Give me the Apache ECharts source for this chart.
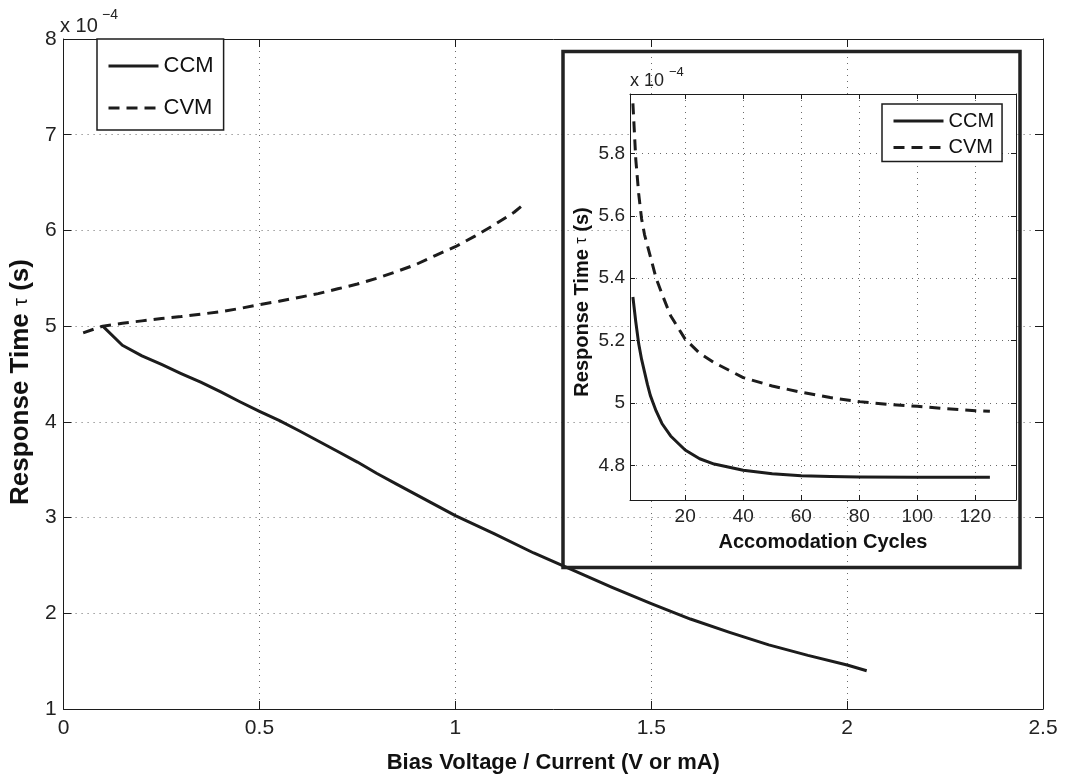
<!DOCTYPE html>
<html>
<head>
<meta charset="utf-8">
<script src="https://cdn.jsdelivr.net/npm/echarts@6/dist/echarts.min.js"></script>
<style>
  html, body { margin: 0; padding: 0; background: #fff; }
  #chart { width: 1067px; height: 779px; }
</style>
</head>
<body>
<div id="chart"></div>
<script>
const FONT = '"Liberation Sans", Arial, Helvetica, sans-serif';
const INK = '#1c1c1c';

// Main plot: response time (x 1e-4 s) against bias voltage / current
const biasCCM = [0.10, 0.15, 0.20, 0.25, 0.30, 0.35, 0.40, 0.45, 0.50, 0.55, 0.60, 0.65, 0.70, 0.75, 0.80,
                 0.85, 0.90, 0.95, 1.00, 1.10, 1.20, 1.30, 1.40, 1.50, 1.60, 1.70, 1.80, 1.90, 2.00, 2.05];
const tauCCM  = [5.00, 4.80, 4.69, 4.60, 4.505, 4.415, 4.315, 4.21, 4.11, 4.015, 3.91, 3.80, 3.69, 3.58, 3.46,
                 3.35, 3.24, 3.13, 3.02, 2.83, 2.63, 2.45, 2.27, 2.10, 1.94, 1.80, 1.67, 1.56, 1.46, 1.40];
const biasCVM = [0.05, 0.10, 0.15, 0.20, 0.25, 0.30, 0.35, 0.40, 0.45, 0.50, 0.55, 0.60, 0.65, 0.70, 0.75,
                 0.80, 0.85, 0.90, 0.95, 1.00, 1.05, 1.10, 1.15, 1.18];
const tauCVM  = [4.93, 5.00, 5.03, 5.055, 5.08, 5.10, 5.125, 5.15, 5.185, 5.225, 5.26, 5.30, 5.34, 5.39, 5.44,
                 5.50, 5.57, 5.645, 5.74, 5.83, 5.94, 6.06, 6.19, 6.29];

// Inset: response time (x 1e-4 s) against accommodation cycles
const cyclesCCM = [2, 3, 4, 5, 6, 7, 8, 9, 10, 12, 15, 20, 25, 30, 40, 50, 60, 70, 80, 100, 125];
const insetCCM  = [5.34, 5.26, 5.19, 5.14, 5.10, 5.06, 5.025, 5.00, 4.975, 4.935, 4.895, 4.85, 4.822, 4.805,
                   4.785, 4.774, 4.768, 4.765, 4.764, 4.763, 4.763];
const cyclesCVM = [2, 3, 4, 5, 6, 8, 10, 12, 15, 20, 25, 30, 40, 50, 60, 70, 80, 90, 100, 110, 120, 125];
const insetCVM  = [5.96, 5.78, 5.67, 5.59, 5.54, 5.47, 5.40, 5.35, 5.28, 5.205, 5.16, 5.13, 5.082, 5.055,
                   5.035, 5.018, 5.005, 4.996, 4.990, 4.982, 4.976, 4.974];

// Axis extents and ticks
const mainX = { min: 0, max: 2.5, step: 0.5 };
const mainY = { min: 1, max: 8, step: 1 };
const insetXRange = [1, 134];
const insetYRange = [4.69, 5.99];
const insetXTicks = [20, 40, 60, 80, 100, 120];
const insetYTicks = [4.8, 5.0, 5.2, 5.4, 5.6, 5.8];
const seriesNames = ['CCM', 'CVM'];

const pairs = (xs, ys) => xs.map((x, i) => [x, ys[i]]);

const gridLine = { show: true, lineStyle: { color: '#6a6a6a', width: 1, type: [1, 5] } };
const frameLine = { show: true, onZero: false, lineStyle: { color: INK, width: 1 } };
const tickLabel = (size) => ({ color: '#222', fontFamily: FONT, fontSize: size });

function mainXAxis(position, labels) {
  return {
    type: 'value', gridIndex: 0, position, min: mainX.min, max: mainX.max, interval: mainX.step,
    axisLine: frameLine,
    axisTick: { show: true, inside: true, length: 8, lineStyle: { color: INK } },
    axisLabel: labels ? Object.assign({ show: true, margin: 9 }, tickLabel(21)) : { show: false },
    splitLine: labels ? gridLine : { show: false }
  };
}
function mainYAxis(position, labels) {
  return {
    type: 'value', gridIndex: 0, position, min: mainY.min, max: mainY.max, interval: mainY.step,
    axisLine: frameLine,
    axisTick: { show: true, inside: true, length: 8, lineStyle: { color: INK } },
    axisLabel: labels ? Object.assign({ show: true, margin: 7 }, tickLabel(21)) : { show: false },
    splitLine: labels ? gridLine : { show: false }
  };
}
function insetAxis(dim, position, labels) {
  const range = dim === 'x' ? insetXRange : insetYRange;
  const ticks = dim === 'x' ? insetXTicks : insetYTicks;
  return {
    type: 'value', gridIndex: 1, position, min: range[0], max: range[1], z: 3,
    axisLine: frameLine,
    axisTick: { show: true, inside: true, length: 5, customValues: ticks, lineStyle: { color: INK } },
    axisLabel: labels ? Object.assign({ show: true, customValues: ticks, margin: dim === 'x' ? 7 : 5 }, tickLabel(19)) : { show: false },
    splitLine: labels ? gridLine : { show: false }
  };
}

const xAxes = [mainXAxis('bottom', true), mainXAxis('top', false), insetAxis('x', 'bottom', true), insetAxis('x', 'top', false)];
const yAxes = [mainYAxis('left', true), mainYAxis('right', false), insetAxis('y', 'left', true), insetAxis('y', 'right', false)];

Object.assign(xAxes[0], {
  name: 'Bias Voltage / Current (V or mA)', nameLocation: 'middle', nameGap: 43,
  nameTextStyle: { fontFamily: FONT, fontSize: 22, fontWeight: 'bold', color: '#111' }
});
Object.assign(yAxes[0], {
  name: '{b|Response Time }{t|τ}{b| (s)}', nameLocation: 'middle', nameGap: 28, nameRotate: 90,
  nameTextStyle: { padding: [0, 16, 0, 0], rich: {
    b: { fontFamily: FONT, fontSize: 26, fontWeight: 'bold', color: '#111' },
    t: { fontFamily: FONT, fontSize: 20, color: '#111' }
  } }
});
Object.assign(xAxes[2], {
  name: 'Accomodation Cycles', nameLocation: 'middle', nameGap: 32,
  nameTextStyle: { fontFamily: FONT, fontSize: 20, fontWeight: 'bold', color: '#111' }
});
Object.assign(yAxes[2], {
  name: '{b|Response Time }{t|τ}{b| (s)}', nameLocation: 'middle', nameGap: 38, nameRotate: 90,
  nameTextStyle: { padding: [0, 10, 0, 0], rich: {
    b: { fontFamily: FONT, fontSize: 20, fontWeight: 'bold', color: '#111' },
    t: { fontFamily: FONT, fontSize: 16, color: '#111' }
  } }
});

function curve(name, xs, ys, axisIdx, dashed, z) {
  return {
    name, type: 'line', xAxisIndex: axisIdx, yAxisIndex: axisIdx, data: pairs(xs, ys),
    symbol: 'none', showSymbol: false, silent: true, animation: false, z, clip: true,
    color: INK, itemStyle: { color: INK },
    lineStyle: { color: INK, width: 3, type: dashed ? [11, 7] : 'solid', cap: 'butt', join: 'round' }
  };
}

function legendBox(left, top, gap, padding, size, z) {
  return {
    left, top, orient: 'vertical', data: seriesNames, selectedMode: false, z,
    itemWidth: 50, itemHeight: 14, itemGap: gap, padding,
    itemStyle: { opacity: 0 },
    lineStyle: { width: 3, color: INK },
    backgroundColor: '#fff', borderColor: INK, borderWidth: 1.5, borderRadius: 0,
    textStyle: { fontFamily: FONT, fontSize: size, color: '#111' }
  };
}

const option = {
  animation: false,
  backgroundColor: '#fff',
  grid: [
    { left: 59, top: 39, width: 984, height: 679, containLabel: false },
    { left: 630, top: 94, width: 386, height: 406, containLabel: false }
  ],
  xAxis: xAxes,
  yAxis: yAxes,
  legend: [
    legendBox(97, 39, 20, [16, 10, 11, 10], 22, 6),
    legendBox(882, 104, 6.4, [7, 8, 4, 10], 20, 7)
  ],
  graphic: [
    // Inset panel: white plotting area and heavy frame
    { type: 'rect', z: 1, silent: true, shape: { x: 630, y: 94, width: 386, height: 406 }, style: { fill: '#fff' } },
    { type: 'rect', z: 3, silent: true, shape: { x: 563, y: 51.5, width: 457, height: 516 },
      style: { fill: 'none', stroke: '#222', lineWidth: 3.5 } },
    // Exponent markers
    { type: 'text', z: 5, left: 60, top: 16, style: { text: 'x 10', font: '20px ' + FONT, fill: '#222' } },
    { type: 'text', z: 5, left: 102, top: 8, style: { text: '\u22124', font: '14px ' + FONT, fill: '#222' } },
    { type: 'text', z: 5, left: 630, top: 72, style: { text: 'x 10', font: '18px ' + FONT, fill: '#222' } },
    { type: 'text', z: 5, left: 669, top: 66, style: { text: '\u22124', font: '13px ' + FONT, fill: '#222' } }
  ],
  series: [
    curve('CCM', biasCCM, tauCCM, 0, false, 2),
    curve('CVM', biasCVM, tauCVM, 0, true, 2),
    curve('CCM', cyclesCCM, insetCCM, 2, false, 4),
    curve('CVM', cyclesCVM, insetCVM, 2, true, 4)
  ]
};

const chart = echarts.init(document.getElementById('chart'), null, { renderer: 'canvas' });
chart.setOption(option);
</script>
</body>
</html>
